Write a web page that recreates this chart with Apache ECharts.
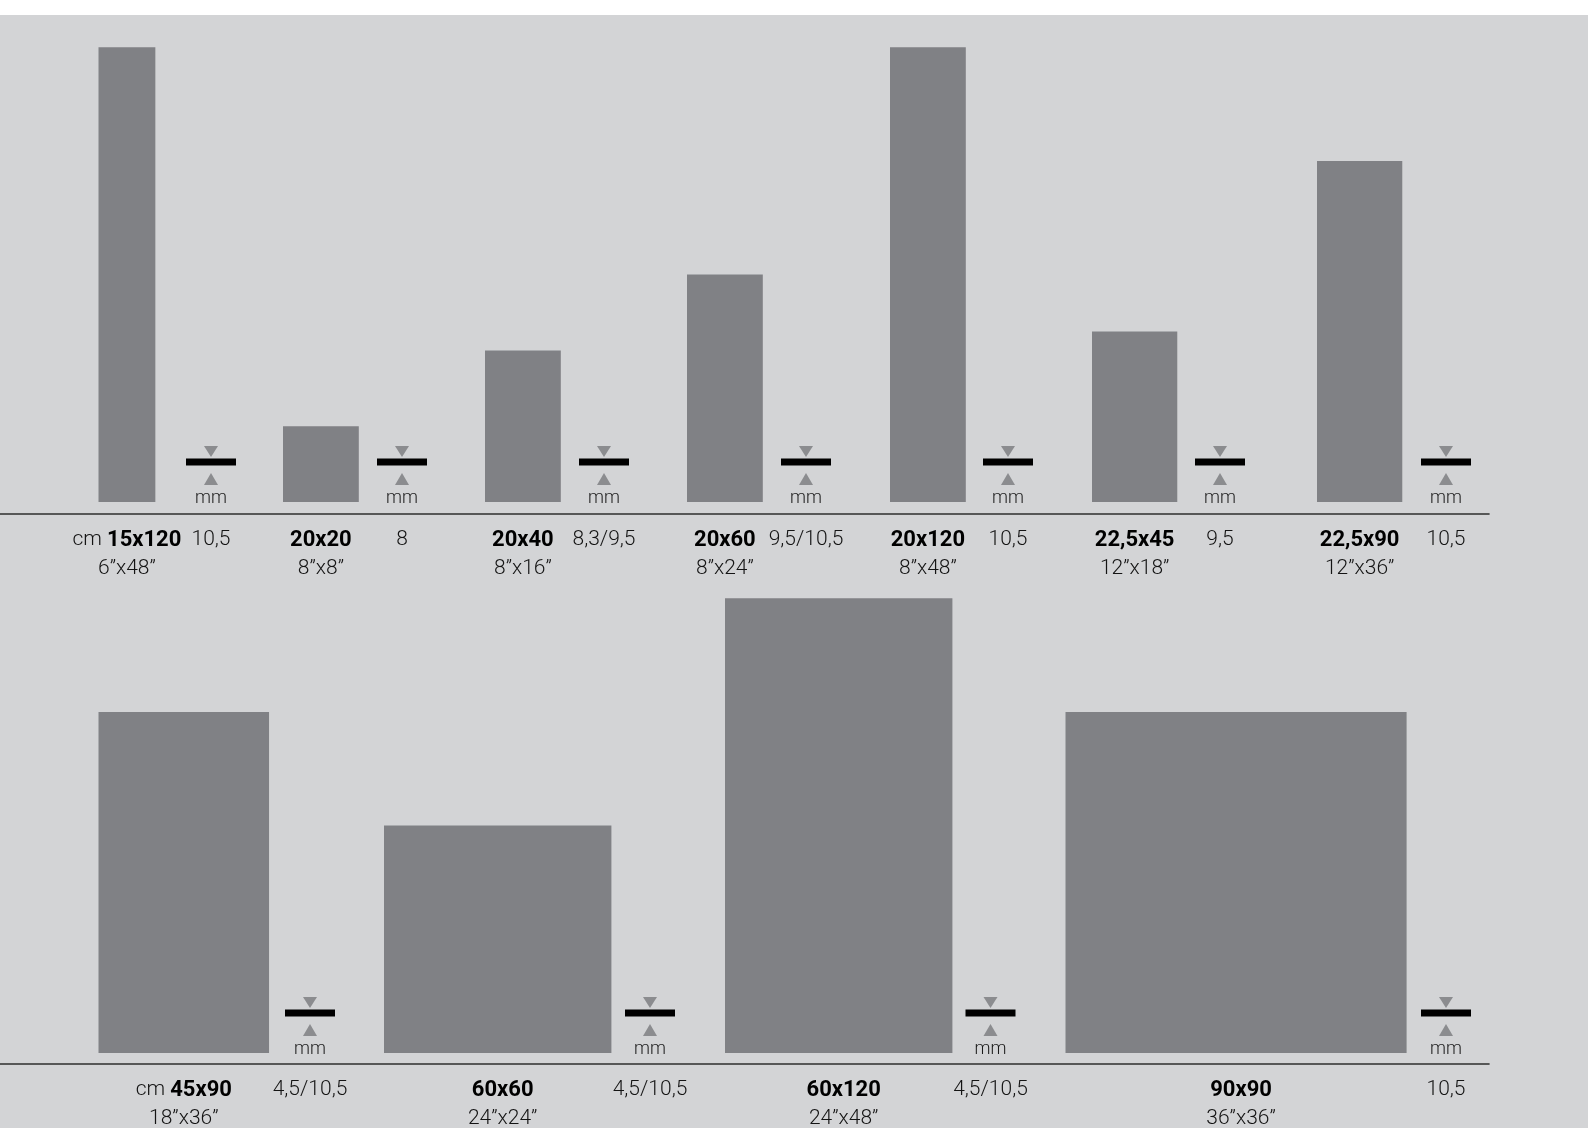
<!DOCTYPE html>
<html><head><meta charset="utf-8">
<script src="https://cdn.jsdelivr.net/npm/echarts@6/dist/echarts.min.js"></script>
<style>html,body{margin:0;padding:0;background:#fff}#c{width:1588px;height:1128px}</style>
</head><body><div id="c"></div>
<script>
// ---- data ----
const topSizes = ['15x120', '20x20', '20x40', '20x60', '20x120', '22,5x45', '22,5x90'];
const topWidthCm = [15, 20, 20, 20, 20, 22.5, 22.5];
const topHeightCm = [120, 20, 40, 60, 120, 45, 90];
const topInches = ['6\u201Dx48\u201D', '8\u201Dx8\u201D', '8\u201Dx16\u201D', '8\u201Dx24\u201D', '8\u201Dx48\u201D', '12\u201Dx18\u201D', '12\u201Dx36\u201D'];
const topThickness = ['10,5', '8', '8,3/9,5', '9,5/10,5', '10,5', '9,5', '10,5'];

const bottomSizes = ['45x90', '60x60', '60x120', '90x90'];
const bottomWidthCm = [45, 60, 60, 90];
const bottomHeightCm = [90, 60, 120, 90];
const bottomInches = ['18\u201Dx36\u201D', '24\u201Dx24\u201D', '24\u201Dx48\u201D', '36\u201Dx36\u201D'];
const bottomThickness = ['4,5/10,5', '4,5/10,5', '4,5/10,5', '10,5'];

const sizeUnit = 'cm';
const thicknessUnit = 'mm';

// ---- layout (pixels) ----
const PX_PER_CM = 3.79;
const AXIS_RIGHT = 1489;
const topLayout = { base: 502, lineOffset: 12,
  rectLeft: [98.5, 283, 485, 687, 890, 1092, 1317],
  iconX: [211, 402, 604, 806, 1008, 1220, 1446],
  labelShift: [0, 0, 0, 0, 0, 0, 0] };
const bottomLayout = { base: 1053, lineOffset: 11,
  rectLeft: [98.5, 384, 725, 1065.5],
  iconX: [310, 650, 990.5, 1446],
  labelShift: [0, 5, 5, 5] };

const FONT = 'Roboto, "Liberation Sans", sans-serif';
const RECT_COLOR = '#808185';
const TRI_COLOR = '#8b8c8f';
const TEXT_COLOR = '#141414';

function makeRender(layout, sizes, inches, thick) {
  return function (params, api) {
    const i = api.value(0), w = api.value(1), h = api.value(2);
    const x0 = layout.rectLeft[i] / PX_PER_CM;
    const pTop = api.coord([x0, h]);
    const pBot = api.coord([x0 + w, 0]);
    const base = pBot[1];
    const cx = (pTop[0] + pBot[0]) / 2 + layout.labelShift[i];
    const ix = layout.iconX[i];
    const lineY = base + layout.lineOffset;
    const rich = {
      c: { fontFamily: FONT, fontWeight: 300, fontSize: 21, fill: TEXT_COLOR },
      b: { fontFamily: FONT, fontWeight: 'bold', fontSize: 22, fill: '#000' }
    };
    const label = i === 0 ? '{c|' + sizeUnit + ' }{b|' + sizes[i] + '}' : '{b|' + sizes[i] + '}';
    return {
      type: 'group',
      children: [
        { type: 'rect', shape: { x: pTop[0], y: pTop[1], width: pBot[0] - pTop[0], height: base - pTop[1] }, style: { fill: RECT_COLOR } },
        { type: 'polygon', shape: { points: [[ix - 7, base - 56], [ix + 7, base - 56], [ix, base - 45]] }, style: { fill: TRI_COLOR } },
        { type: 'rect', shape: { x: ix - 25, y: base - 40 - 3.5, width: 50, height: 7 }, style: { fill: '#000' } },
        { type: 'polygon', shape: { points: [[ix - 7, base - 17], [ix + 7, base - 17], [ix, base - 29]] }, style: { fill: TRI_COLOR } },
        { type: 'text', x: ix, y: base - 4, style: { text: thicknessUnit, fontFamily: FONT, fontWeight: 300, fontSize: 18, fill: '#1a1a1a', align: 'center', verticalAlign: 'middle' } },
        { type: 'text', x: cx, y: lineY + 26, style: { text: label, rich: rich, align: 'center', verticalAlign: 'middle' } },
        { type: 'text', x: cx, y: lineY + 55, style: { text: inches[i], fontFamily: FONT, fontWeight: 300, fontSize: 21, fill: TEXT_COLOR, align: 'center', verticalAlign: 'middle' } },
        { type: 'text', x: ix, y: lineY + 26, style: { text: thick[i], fontFamily: FONT, fontWeight: 300, fontSize: 21, fill: TEXT_COLOR, align: 'center', verticalAlign: 'middle' } }
      ]
    };
  };
}

const gridH = 120 * PX_PER_CM;
const xAxisBase = {
  type: 'value', min: 0, max: AXIS_RIGHT / PX_PER_CM,
  axisLine: { show: true, onZero: false, lineStyle: { color: '#2e2e2e', width: 1.6 } },
  axisTick: { show: false }, axisLabel: { show: false }, splitLine: { show: false }
};

const chart = echarts.init(document.getElementById('c'));
chart.setOption({
  backgroundColor: '#d3d4d6',
  animation: false,
  graphic: [{ type: 'rect', shape: { x: 0, y: 0, width: 1588, height: 15 }, style: { fill: '#ffffff' }, z: 100 }],
  grid: [
    { left: 0, width: AXIS_RIGHT, top: topLayout.base - gridH, height: gridH },
    { left: 0, width: AXIS_RIGHT, top: bottomLayout.base - gridH, height: gridH }
  ],
  xAxis: [
    Object.assign({}, xAxisBase, { gridIndex: 0, offset: topLayout.lineOffset }),
    Object.assign({}, xAxisBase, { gridIndex: 1, offset: bottomLayout.lineOffset })
  ],
  yAxis: [
    { gridIndex: 0, type: 'value', min: 0, max: 120, show: false },
    { gridIndex: 1, type: 'value', min: 0, max: 120, show: false }
  ],
  series: [
    {
      type: 'custom', xAxisIndex: 0, yAxisIndex: 0,
      encode: { x: 1, y: 2 },
      renderItem: makeRender(topLayout, topSizes, topInches, topThickness),
      data: topSizes.map((s, i) => [i, topWidthCm[i], topHeightCm[i]])
    },
    {
      type: 'custom', xAxisIndex: 1, yAxisIndex: 1,
      encode: { x: 1, y: 2 },
      renderItem: makeRender(bottomLayout, bottomSizes, bottomInches, bottomThickness),
      data: bottomSizes.map((s, i) => [i, bottomWidthCm[i], bottomHeightCm[i]])
    }
  ]
});
</script></body></html>
